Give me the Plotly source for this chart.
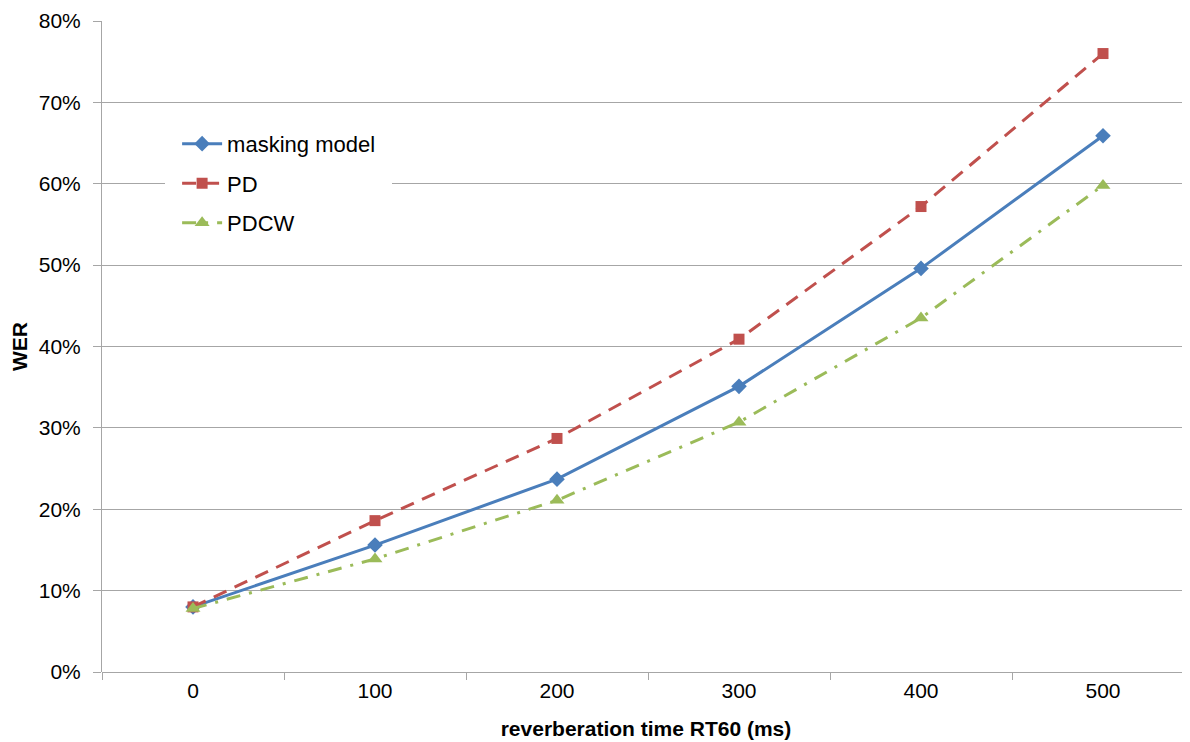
import plotly.graph_objects as go

rt60 = ["0", "100", "200", "300", "400", "500"]
masking_model = [8.0, 15.6, 23.7, 35.1, 49.6, 65.9]
pd_wer = [8.0, 18.6, 28.7, 40.9, 57.2, 76.0]
pdcw_wer = [7.8, 13.9, 21.1, 30.7, 43.5, 59.8]
y_ticks = [0, 10, 20, 30, 40, 50, 60, 70, 80]
y_tick_labels = ["0%", "10%", "20%", "30%", "40%", "50%", "60%", "70%", "80%"]

FONT = "Liberation Sans, Arial, sans-serif"
GRID = "#a6a6a6"

fig = go.Figure()
fig.add_trace(go.Scatter(
    x=rt60, y=masking_model, name="masking model", mode="lines+markers",
    line=dict(color="#4A7EBB", width=3),
    marker=dict(symbol="diamond", size=12, color="#4A7EBB"),
    legendgroup="a"))
fig.add_trace(go.Scatter(
    x=rt60, y=pd_wer, name="PD", mode="lines+markers",
    line=dict(color="#C0504D", width=3, dash="14px,9px"),
    marker=dict(symbol="square", size=11, color="#C0504D"),
    legendgroup="b"))
fig.add_trace(go.Scatter(
    x=rt60, y=pdcw_wer, name="PDCW", mode="lines+markers",
    line=dict(color="#9BBB59", width=3, dash="14px,9px,3px,9px"),
    marker=dict(symbol="triangle-up", size=13, color="#9BBB59"),
    legendgroup="c"))

fig.update_layout(
    width=1182, height=734,
    margin=dict(l=94, r=0, t=13, b=70, autoexpand=False),
    paper_bgcolor="white", plot_bgcolor="white",
    font=dict(family=FONT, size=22, color="black"),
    showlegend=True,
    legend=dict(x=0.058, y=0.862, xanchor="left", yanchor="top",
                bgcolor="white", bordercolor="white", borderwidth=12,
                font=dict(size=22, family=FONT),
                tracegroupgap=8, itemwidth=40),
)
fig.update_xaxes(
    type="category", range=[-0.5, 5.478], automargin=False,
    showgrid=False, showline=False, zeroline=False,
    ticks="outside", tickson="boundaries", ticklen=7, tickcolor=GRID,
    tickfont=dict(size=21), ticklabelstandoff=4,
    title=dict(text="<b>reverberation time RT60 (ms)</b>", font=dict(size=21), standoff=20),
)
fig.update_yaxes(
    range=[0, 80], tickvals=y_ticks, ticktext=y_tick_labels, automargin=False,
    showgrid=True, gridcolor=GRID, gridwidth=1,
    showline=True, linecolor=GRID, linewidth=1,
    zeroline=True, zerolinecolor=GRID, zerolinewidth=1,
    ticks="outside", ticklen=8, tickcolor=GRID,
    tickfont=dict(size=21), ticklabelstandoff=8, ticklabeloverflow="allow",
    title=dict(text="<b>WER</b>", font=dict(size=21), standoff=6),
)

fig.write_html("out.html")
